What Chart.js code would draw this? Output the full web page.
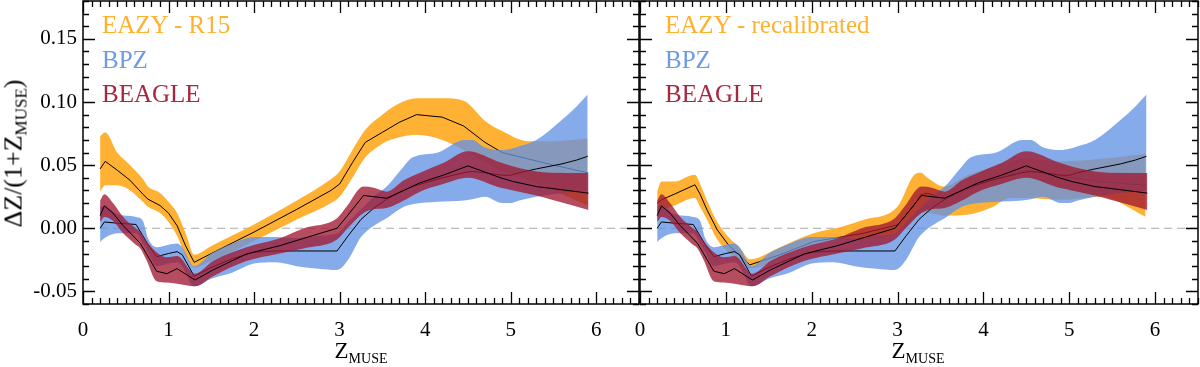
<!DOCTYPE html>
<html><head><meta charset="utf-8">
<script src="https://cdn.jsdelivr.net/npm/chart.js@4.4.1/dist/chart.umd.min.js"></script>
<style>
html,body{margin:0;padding:0;background:#fff;width:1200px;height:367px;overflow:hidden;font-family:"Liberation Serif",serif;}
canvas{position:absolute;top:0;}
#c1{left:0;}
#c2{left:610px;}
.lg{position:absolute;font-size:25px;line-height:25px;white-space:nowrap;}
.xt{position:absolute;font-size:23px;line-height:23px;white-space:nowrap;text-align:center;width:120px;}
.xt sub{font-size:14px;vertical-align:baseline;position:relative;top:5px;}
.yt sub{font-size:17px;vertical-align:baseline;position:relative;top:5px;}
.yt{position:absolute;font-size:26px;line-height:26px;white-space:nowrap;transform:rotate(-90deg);transform-origin:center center;text-align:center;width:200px;}
</style></head>
<body>
<canvas id="c1" width="641" height="367"></canvas>
<canvas id="c2" width="590" height="367"></canvas>
<div class="lg" style="left:102px;top:12px;color:#FFB12E">EAZY - R15</div>
<div class="lg" style="left:102px;top:47px;color:#6E9BE6">BPZ</div>
<div class="lg" style="left:102px;top:81px;color:#A8263F">BEAGLE</div>
<div class="lg" style="left:665px;top:12px;color:#FFB12E">EAZY - recalibrated</div>
<div class="lg" style="left:665px;top:47px;color:#6E9BE6">BPZ</div>
<div class="lg" style="left:665px;top:81px;color:#A8263F">BEAGLE</div>
<div class="xt" style="left:301px;top:339px">Z<sub>MUSE</sub></div>
<div class="xt" style="left:858px;top:339px">Z<sub>MUSE</sub></div>
<div class="yt" style="left:-85px;top:139px">ΔZ/(1+Z<sub>MUSE</sub>)</div>
<script>
// ---- tick labels ----
const xTicks = [0, 1, 2, 3, 4, 5, 6];
const yTicks = [-0.05, 0.00, 0.05, 0.10, 0.15];

// ---- EAZY - R15 (left panel) ----
const eazyR15X   = [0.2, 0.26, 0.4, 0.55, 0.7, 0.76, 0.9, 1.0, 1.1, 1.2, 1.3, 1.5, 2.0, 2.5, 2.9, 3.0, 3.15, 3.3, 3.5, 3.7, 3.9, 4.2, 4.45, 4.7, 4.9, 5.2, 5.5, 5.9];
const eazyR15Med = [0.047, 0.053, 0.046, 0.038, 0.027, 0.023, 0.018, 0.012, 0.002, -0.014, -0.027, -0.020, -0.003, 0.015, 0.030, 0.035, 0.052, 0.068, 0.076, 0.084, 0.090, 0.088, 0.081, 0.068, 0.060, 0.055, 0.050, 0.044];
const eazyR15Lo  = [0.029, 0.034, 0.034, 0.030, 0.021, 0.017, 0.012, 0.005, -0.006, -0.022, -0.031, -0.026, -0.010, 0.007, 0.020, 0.025, 0.040, 0.056, 0.067, 0.072, 0.074, 0.070, 0.062, 0.052, 0.045, 0.038, 0.030, 0.018];
const eazyR15Hi  = [0.073, 0.076, 0.060, 0.050, 0.039, 0.033, 0.028, 0.021, 0.012, -0.004, -0.021, -0.014, 0.003, 0.022, 0.039, 0.045, 0.062, 0.078, 0.090, 0.099, 0.103, 0.103, 0.101, 0.085, 0.077, 0.069, 0.069, 0.071];

// ---- EAZY - recalibrated (right panel) ----
const eazyRecX   = [0.2, 0.25, 0.4, 0.64, 0.7, 0.78, 0.9, 1.03, 1.17, 1.28, 1.63, 2.02, 2.33, 2.6, 3.0, 3.19, 3.27, 3.35, 3.54, 3.81, 4.08, 4.32, 4.5, 4.9, 5.37, 5.89];
const eazyRecMed = [0.0198, 0.0225, 0.027, 0.0344, 0.027, 0.0146, -0.0013, -0.0132, -0.022, -0.029, -0.021, -0.0106, -0.0071, -0.004, 0.0026, 0.018, 0.0264, 0.0277, 0.0238, 0.031, 0.038, 0.043, 0.046, 0.041, 0.037, 0.034];
const eazyRecLo  = [0.012, 0.014, 0.018, 0.024, 0.017, 0.007, -0.009, -0.019, -0.027, -0.032, -0.024, -0.0132, -0.0093, -0.009, -0.004, 0.006, 0.012, 0.012, 0.010, 0.0106, 0.016, 0.024, 0.024, 0.0225, 0.025, 0.0092];
const eazyRecHi  = [0.029, 0.037, 0.037, 0.0423, 0.035, 0.022, 0.005, -0.007, -0.016, -0.0246, -0.015, -0.004, 0.0008, 0.0066, 0.0172, 0.042, 0.044, 0.040, 0.033, 0.042, 0.048, 0.053, 0.055, 0.053, 0.055, 0.059];

// ---- BPZ (both panels) ----
const bpzX   = [0.2, 0.25, 0.4, 0.62, 0.7, 0.76, 0.86, 1.0, 1.1, 1.16, 1.3, 1.5, 1.75, 2.0, 2.25, 2.5, 2.75, 2.97, 3.1, 3.25, 3.4, 3.55, 3.75, 3.85, 4.15, 4.45, 4.55, 4.7, 4.9, 5.0, 5.1, 5.3, 5.6, 5.77, 5.9];
const bpzMed = [0.000, 0.005, 0.004, 0.003, -0.006, -0.013, -0.0225, -0.020, -0.0185, -0.021, -0.038, -0.031, -0.024, -0.019, -0.018, -0.018, -0.018, -0.018, -0.006, 0.007, 0.016, 0.023, 0.030, 0.033, 0.039, 0.044, 0.045, 0.044, 0.042, 0.042, 0.044, 0.047, 0.051, 0.054, 0.057];
const bpzLo  = [-0.011, -0.008, -0.004, -0.004, -0.012, -0.019, -0.030, -0.028, -0.027, -0.030, -0.046, -0.040, -0.035, -0.028, -0.027, -0.030, -0.032, -0.033, -0.025, -0.007, 0.002, 0.008, 0.017, 0.019, 0.021, 0.022, 0.023, 0.025, 0.020, 0.020, 0.022, 0.025, 0.028, 0.029, 0.030];
const bpzHi  = [0.017, 0.018, 0.011, 0.009, 0.006, -0.008, -0.015, -0.013, -0.012, -0.015, -0.030, -0.020, -0.012, -0.007, -0.007, -0.008, -0.006, -0.004, 0.005, 0.015, 0.025, 0.033, 0.049, 0.056, 0.060, 0.070, 0.070, 0.064, 0.062, 0.063, 0.065, 0.070, 0.086, 0.0965, 0.106];

// ---- BEAGLE (both panels) ----
const beagleX   = [0.2, 0.25, 0.35, 0.47, 0.6, 0.67, 0.74, 0.86, 0.98, 1.1, 1.31, 1.52, 1.91, 2.3, 2.58, 2.97, 3.08, 3.28, 3.4, 3.55, 3.75, 3.94, 4.21, 4.5, 4.88, 5.03, 5.3, 5.46, 5.91];
const beagleMed = [0.010, 0.0177, 0.012, 0.002, -0.007, -0.012, -0.020, -0.034, -0.036, -0.032, -0.041, -0.033, -0.0204, -0.0138, -0.008, 0.000, 0.009, 0.026, 0.025, 0.0238, 0.030, 0.036, 0.042, 0.0494, 0.040, 0.037, 0.033, 0.0317, 0.0278];
const beagleLo  = [0.005, 0.009, 0.006, -0.004, -0.012, -0.016, -0.025, -0.042, -0.043, -0.044, -0.046, -0.038, -0.026, -0.020, -0.016, -0.009, -0.001, 0.012, 0.015, 0.016, 0.022, 0.029, 0.035, 0.040, 0.032, 0.030, 0.026, 0.023, 0.0145];
const beagleHi  = [0.022, 0.027, 0.020, 0.009, 0.001, -0.003, -0.010, -0.019, -0.023, -0.022, -0.036, -0.026, -0.015, -0.008, 0.000, 0.008, 0.017, 0.033, 0.032, 0.029, 0.038, 0.044, 0.0516, 0.061, 0.052, 0.049, 0.045, 0.044, 0.0437];

// ---- zero reference line ----
const zeroX = [0.2, 6.5];
const zeroY = [0, 0];

const ORANGE = 'rgba(255,168,30,0.9)';
const BLUE   = 'rgba(100,148,228,0.78)';
const RED    = 'rgba(160,25,50,0.78)';

function pts(xs, ys){ return xs.map((v,i)=>({x:v, y:ys[i]})); }
function series(xs, lo, hi, med, fillColor, order){
  return [
    {data: pts(xs, hi), borderWidth: 0, borderColor: 'rgba(0,0,0,0)', pointRadius: 0, backgroundColor: fillColor, fill: '+1', cubicInterpolationMode: 'monotone', order: order},
    {data: pts(xs, lo), borderWidth: 0, borderColor: 'rgba(0,0,0,0)', pointRadius: 0, fill: false, cubicInterpolationMode: 'monotone', order: order - 1},
    {data: pts(xs, med), borderWidth: 1, borderColor: '#000', pointRadius: 0, fill: false, tension: 0, order: order - 5}
  ];
}

const frameTicks = {
  id: 'frameTicks',
  afterDatasetsDraw(chart){
    const {ctx, chartArea: a, scales: {x, y}} = chart;
    ctx.save();
    ctx.strokeStyle = '#000';
    ctx.lineWidth = 1.3;
    ctx.beginPath();
    for (let i = 0; i <= 65; i++){
      const px = Math.round(x.getPixelForValue(i/10)) + 0.5;
      const L = (i % 10 === 0) ? 12 : 6;
      ctx.moveTo(px, a.bottom); ctx.lineTo(px, a.bottom - L);
      ctx.moveTo(px, a.top); ctx.lineTo(px, a.top + L);
    }
    for (let i = -6; i <= 18; i++){
      const py = Math.round(y.getPixelForValue(i/100)) + 0.5;
      const L = (i % 5 === 0) ? 12 : 6;
      ctx.moveTo(a.left, py); ctx.lineTo(a.left + L, py);
      ctx.moveTo(a.right, py); ctx.lineTo(a.right - L, py);
    }
    ctx.stroke();
    ctx.lineWidth = 1.5;
    ctx.strokeRect(a.left, a.top, a.right - a.left, a.bottom - a.top);
    ctx.restore();
  }
};

const FONT = {family: '"Liberation Serif", serif', size: 21};

function makeChart(id, eX, eLo, eHi, eMed, showY, yWidth){
  const datasets = [
    {data: pts(zeroX, zeroY), borderColor: '#a8a8a8', borderWidth: 1, borderDash: [8,5], pointRadius: 0, fill: false, order: 100},
    ...series(eX, eLo, eHi, eMed, ORANGE, 90),
    ...series(bpzX, bpzLo, bpzHi, bpzMed, BLUE, 70),
    ...series(beagleX, beagleLo, beagleHi, beagleMed, RED, 50)
  ];
  return new Chart(document.getElementById(id), {
    type: 'line',
    data: {datasets},
    options: {
      responsive: false, animation: false, devicePixelRatio: 1,
      layout: {padding: {top: 1, right: 2, left: 0, bottom: 0}},
      plugins: {legend: {display: false}, tooltip: {enabled: false}},
      scales: {
        x: {type: 'linear', min: 0, max: 6.5,
            afterBuildTicks: s => { s.ticks = xTicks.map(v => ({value: v})); },
            grid: {display: false, drawTicks: false}, border: {display: false},
            ticks: {font: FONT, color: '#000', padding: 14, maxRotation: 0, autoSkip: false, callback: v => String(v)},
            afterFit: s => { s.height = 63; s.paddingLeft = 0; s.paddingRight = 0; }},
        y: {type: 'linear', min: -0.06, max: 0.18,
            afterBuildTicks: s => { s.ticks = yTicks.map(v => ({value: v})); },
            grid: {display: false, drawTicks: false}, border: {display: false},
            ticks: {display: showY, font: FONT, color: '#000', padding: 6, callback: v => v.toFixed(2)},
            afterFit: s => { s.width = yWidth; s.paddingTop = 0; s.paddingBottom = 0; }}
      }
    },
    plugins: [frameTicks]
  });
}

makeChart('c1', eazyR15X, eazyR15Lo, eazyR15Hi, eazyR15Med, true, 83);
makeChart('c2', eazyRecX, eazyRecLo, eazyRecHi, eazyRecMed, false, 30);
</script>
</body></html>
